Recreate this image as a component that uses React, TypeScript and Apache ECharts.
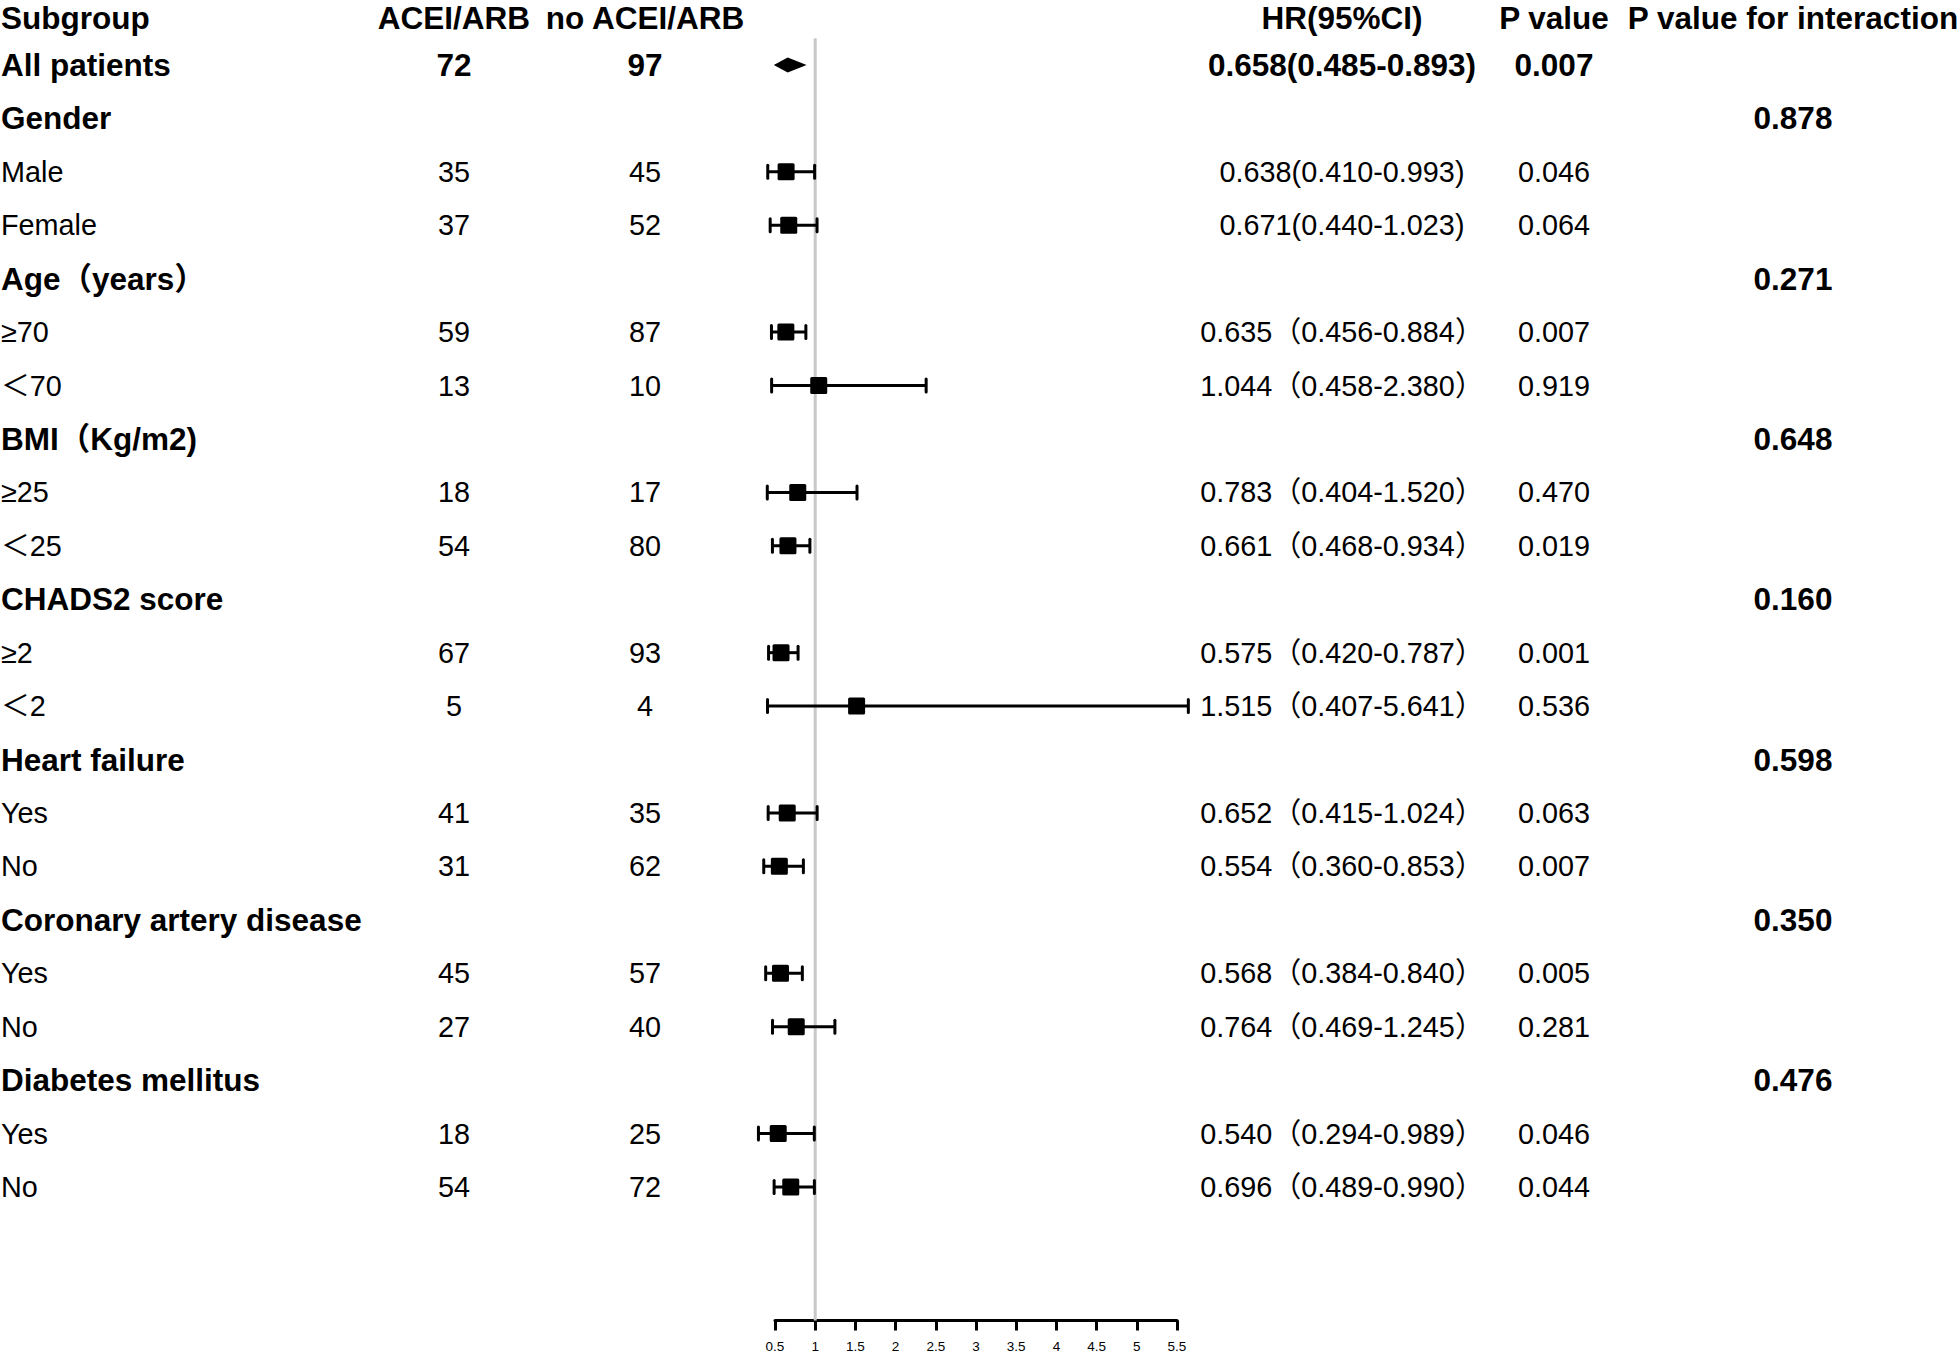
import React, { useEffect, useRef } from 'react';
import * as echarts from 'echarts';

const W = 1960;
const H = 1353;
const FONT = "'Liberation Sans', Arial, 'Noto Sans CJK SC', sans-serif";

const headerLabels = ['Subgroup', 'ACEI/ARB', 'no ACEI/ARB', 'HR(95%CI)', 'P value', 'P value for interaction'];

const subgroupLabels = [
  'All patients', 'Gender', 'Male', 'Female', 'Age（years）', '≥70', '＜70',
  'BMI（Kg/m2)', '≥25', '＜25', 'CHADS2 score', '≥2', '＜2',
  'Heart failure', 'Yes', 'No', 'Coronary artery disease', 'Yes', 'No',
  'Diabetes mellitus', 'Yes', 'No',
];
const isBoldRow = [
  true, true, false, false, true, false, false,
  true, false, false, true, false, false,
  true, false, false, true, false, false,
  true, false, false,
];
const aceiCounts = ['72', '', '35', '37', '', '59', '13', '', '18', '54', '', '67', '5', '', '41', '31', '', '45', '27', '', '18', '54'];
const noAceiCounts = ['97', '', '45', '52', '', '87', '10', '', '17', '80', '', '93', '4', '', '35', '62', '', '57', '40', '', '25', '72'];
const hrPoint = [0.658, null, 0.638, 0.671, null, 0.635, 1.044, null, 0.783, 0.661, null, 0.575, 1.515, null, 0.652, 0.554, null, 0.568, 0.764, null, 0.540, 0.696];
const hrLow = [0.485, null, 0.410, 0.440, null, 0.456, 0.458, null, 0.404, 0.468, null, 0.420, 0.407, null, 0.415, 0.360, null, 0.384, 0.469, null, 0.294, 0.489];
const hrHigh = [0.893, null, 0.993, 1.023, null, 0.884, 2.380, null, 1.520, 0.934, null, 0.787, 5.641, null, 1.024, 0.853, null, 0.840, 1.245, null, 0.989, 0.990];
const hrText = [
  '0.658(0.485-0.893)', '', '0.638(0.410-0.993)', '0.671(0.440-1.023)', '',
  '0.635（0.456-0.884）', '1.044（0.458-2.380）', '',
  '0.783（0.404-1.520）', '0.661（0.468-0.934）', '',
  '0.575（0.420-0.787）', '1.515（0.407-5.641）', '',
  '0.652（0.415-1.024）', '0.554（0.360-0.853）', '',
  '0.568（0.384-0.840）', '0.764（0.469-1.245）', '',
  '0.540（0.294-0.989）', '0.696（0.489-0.990）',
];
const pValues = ['0.007', '', '0.046', '0.064', '', '0.007', '0.919', '', '0.470', '0.019', '', '0.001', '0.536', '', '0.063', '0.007', '', '0.005', '0.281', '', '0.046', '0.044'];
const pInteraction = ['', '0.878', '', '', '0.271', '', '', '0.648', '', '', '0.160', '', '', '0.598', '', '', '0.350', '', '', '0.476', '', ''];

const X_MIN = 0.5;
const X_MAX = 5.5;
const X_INTERVAL = 0.5;
const REF_HR = 1;

export default function App() {
  const ref = useRef<HTMLDivElement>(null);

  useEffect(() => {
    const chart = echarts.init(ref.current as HTMLDivElement, null, { renderer: 'svg' });

    const COLS = [1, 454, 645, 1342, 1554, 1793];
    const ALIGNS = ['left', 'center', 'center', 'center', 'center', 'center'];
    const ROW_H = 53.45;
    const GRID_TOP = 11.55;
    const HEADER_ROW = 0.12;
    const Y_MAX = 24.5;

    const txt = (text: string, x: number, y: number, align: string, bold: boolean) => ({
      type: 'text',
      style: {
        text,
        x,
        y,
        align,
        verticalAlign: 'middle',
        fontFamily: FONT,
        fontSize: bold ? 31.5 : 28.8,
        fontWeight: bold ? 'bold' : 'normal',
        fill: '#000',
      },
    });

    const textData: number[][] = [[X_MIN, HEADER_ROW, -1]];
    subgroupLabels.forEach((_, i) => textData.push([X_MIN, i + 1, i]));

    const forestData: number[][] = [];
    hrPoint.forEach((v, i) => {
      if (v != null) forestData.push([v, i + 1, hrLow[i] as number, hrHigh[i] as number, i === 0 ? 1 : 0]);
    });

    const option: any = {
      animation: false,
      backgroundColor: '#fff',
      grid: { left: 775, width: 402, top: GRID_TOP, height: Y_MAX * ROW_H, containLabel: false },
      xAxis: {
        type: 'value',
        position: 'bottom',
        min: X_MIN,
        max: X_MAX,
        interval: X_INTERVAL,
        axisLine: { show: true, onZero: false, lineStyle: { color: '#000', width: 3 } },
        axisTick: { show: true, inside: false, length: 10, lineStyle: { color: '#000', width: 3 } },
        axisLabel: { fontSize: 13.5, color: '#000', fontFamily: FONT, margin: 19 },
        splitLine: { show: false },
      },
      yAxis: {
        type: 'value',
        min: 0,
        max: Y_MAX,
        inverse: true,
        show: false,
        splitLine: { show: false },
      },
      series: [
        {
          type: 'line',
          data: [[REF_HR, 0.5], [REF_HR, Y_MAX]],
          symbol: 'none',
          lineStyle: { color: '#c8c8c8', width: 3 },
          z: 1,
          silent: true,
        },
        {
          type: 'custom',
          z: 3,
          silent: true,
          clip: false,
          data: forestData,
          renderItem: (params: any, api: any) => {
            const row = api.value(1);
            const p = api.coord([api.value(0), row]);
            const lo = api.coord([api.value(2), row]);
            const hi = api.coord([api.value(3), row]);
            const diamond = api.value(4) === 1;
            if (diamond) {
              return {
                type: 'polygon',
                shape: { points: [[lo[0], p[1]], [p[0], p[1] - 7.5], [hi[0], p[1]], [p[0], p[1] + 7.5]] },
                style: { fill: '#000' },
              };
            }
            const cap = 6.5;
            const sq = 17;
            const ls = { stroke: '#000', lineWidth: 3, lineCap: 'round' };
            return {
              type: 'group',
              children: [
                { type: 'line', shape: { x1: lo[0], y1: p[1], x2: hi[0], y2: p[1] }, style: { stroke: '#000', lineWidth: 3 } },
                { type: 'line', shape: { x1: lo[0], y1: p[1] - cap, x2: lo[0], y2: p[1] + cap }, style: ls },
                { type: 'line', shape: { x1: hi[0], y1: p[1] - cap, x2: hi[0], y2: p[1] + cap }, style: ls },
                { type: 'rect', shape: { x: p[0] - sq / 2, y: p[1] - sq / 2, width: sq, height: sq, r: 1.5 }, style: { fill: '#000' } },
              ],
            };
          },
        },
        {
          type: 'custom',
          z: 4,
          silent: true,
          clip: false,
          data: textData,
          renderItem: (params: any, api: any) => {
            const y = api.coord([api.value(0), api.value(1)])[1];
            const idx = api.value(2);
            const children: any[] = [];
            if (idx < 0) {
              headerLabels.forEach((h, c) => children.push(txt(h, COLS[c], y, ALIGNS[c], true)));
            } else {
              const bold = isBoldRow[idx];
              const allRow = idx === 0;
              children.push(txt(subgroupLabels[idx], COLS[0], y, ALIGNS[0], bold));
              if (aceiCounts[idx]) children.push(txt(aceiCounts[idx], COLS[1], y, ALIGNS[1], allRow));
              if (noAceiCounts[idx]) children.push(txt(noAceiCounts[idx], COLS[2], y, ALIGNS[2], allRow));
              if (hrText[idx]) children.push(txt(hrText[idx], COLS[3], y, ALIGNS[3], allRow));
              if (pValues[idx]) children.push(txt(pValues[idx], COLS[4], y, ALIGNS[4], allRow));
              if (pInteraction[idx]) children.push(txt(pInteraction[idx], COLS[5], y, ALIGNS[5], true));
            }
            return { type: 'group', children };
          },
        },
      ],
    };

    chart.setOption(option);
    return () => {
      chart.dispose();
    };
  }, []);

  return (
    <div
      ref={ref}
      style={{ position: 'fixed', left: 0, top: 0, width: W, height: H, background: '#fff' }}
    />
  );
}
